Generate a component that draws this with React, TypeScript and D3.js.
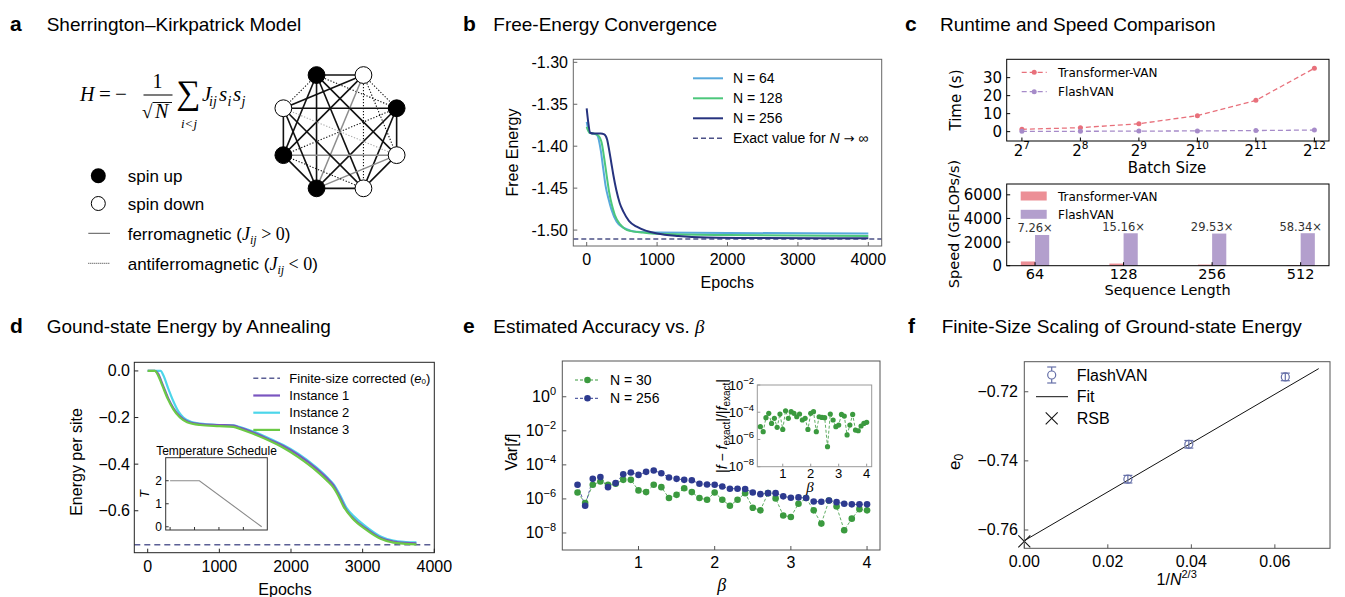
import React from "react";
import * as d3 from "d3";

const SANS = "'Liberation Sans', Arial, Helvetica, sans-serif";
const MPL = "'DejaVu Sans', sans-serif";
const SERIF = "'Liberation Serif', 'DejaVu Serif', serif";

// ---------- Panel a data ----------
const spinUp = [1, 0, 1, 0, 0, 1, 1, 0];
const couplings: [number, number, string][] = [
  [0, 1, "k"], [0, 2, "d"], [0, 3, "k"], [0, 4, "k"], [0, 5, "k"], [0, 6, "k"], [0, 7, "d"],
  [1, 2, "d"], [1, 3, "d"], [1, 4, "d"], [1, 5, "g"], [1, 6, "k"], [1, 7, "k"],
  [2, 3, "k"], [2, 4, "k"], [2, 5, "k"], [2, 6, "d"], [2, 7, "k"],
  [3, 4, "k"], [3, 5, "g"], [3, 6, "g"], [3, 7, "dg"],
  [4, 5, "k"], [4, 6, "d"], [4, 7, "k"],
  [5, 6, "k"], [5, 7, "k"],
  [6, 7, "k"],
];

// ---------- Panel b data ----------
const feN64: [number, number][] = [
  [0, -1.371], [40, -1.384], [100, -1.385], [150, -1.387], [200, -1.405], [237, -1.428], [270, -1.448],
  [308, -1.462], [350, -1.475], [426, -1.49], [500, -1.496], [568, -1.499], [700, -1.502], [1000, -1.503],
  [2000, -1.5035], [4000, -1.504],
];
const feN128: [number, number][] = [
  [0, -1.377], [40, -1.384], [100, -1.385], [160, -1.387], [213, -1.396], [250, -1.415], [284, -1.435],
  [320, -1.455], [355, -1.469], [400, -1.482], [473, -1.493], [550, -1.499], [615, -1.501], [800, -1.503],
  [1000, -1.5045], [2000, -1.506], [4000, -1.507],
];
const feN256: [number, number][] = [
  [0, -1.355], [20, -1.37], [50, -1.384], [100, -1.385], [200, -1.385], [250, -1.386], [290, -1.392],
  [320, -1.405], [350, -1.42], [380, -1.435], [420, -1.452], [470, -1.468], [521, -1.478], [600, -1.489],
  [710, -1.496], [850, -1.501], [1000, -1.504], [1300, -1.507], [1700, -1.5088], [2500, -1.5095], [4000, -1.5098],
];
const feExact = -1.5107;

// ---------- Panel c data ----------
const batchExp = [7, 8, 9, 10, 11, 12];
const timeTransformer = [1.3, 2.2, 4.4, 8.9, 17.4, 35.2];
const timeFlash = [0.15, 0.2, 0.3, 0.4, 0.6, 0.9];
const seqLengths = ["64", "128", "256", "512"];
const speedTransformer = [358, 181, 92, 47];
const speedFlash = [2600, 2745, 2720, 2750];
const speedups = ["7.26×", "15.16×", "29.53×", "58.34×"];

// ---------- Panel d data ----------
const inst1: [number, number][] = [
  [0, 0], [100, 0], [140, -0.01], [210, -0.06], [290, -0.12], [360, -0.16], [450, -0.195], [550, -0.216],
  [730, -0.228], [1000, -0.232], [1200, -0.235], [1300, -0.245], [1474, -0.264], [1700, -0.295], [1893, -0.322],
  [2100, -0.36], [2358, -0.42], [2500, -0.46], [2590, -0.49], [2680, -0.54], [2780, -0.6], [2893, -0.64],
  [3056, -0.678], [3250, -0.716], [3428, -0.732], [3600, -0.738], [3750, -0.74],
];
const inst2: [number, number][] = [
  [0, 0], [180, 0], [220, -0.02], [280, -0.07], [358, -0.13], [430, -0.175], [498, -0.2], [600, -0.218],
  [730, -0.226], [1000, -0.232], [1200, -0.234], [1300, -0.242], [1474, -0.26], [1700, -0.29], [1893, -0.318],
  [2100, -0.355], [2358, -0.415], [2500, -0.455], [2590, -0.485], [2680, -0.53], [2780, -0.59], [2893, -0.628],
  [3056, -0.67], [3250, -0.71], [3428, -0.728], [3600, -0.734], [3750, -0.736],
];
const inst3: [number, number][] = [
  [0, 0], [100, 0], [130, -0.01], [200, -0.06], [280, -0.12], [358, -0.165], [450, -0.2], [550, -0.22],
  [730, -0.232], [1000, -0.237], [1195, -0.24], [1300, -0.25], [1474, -0.27], [1700, -0.3], [1893, -0.33],
  [2100, -0.37], [2358, -0.43], [2500, -0.47], [2590, -0.5], [2650, -0.53], [2730, -0.58], [2850, -0.63],
  [3056, -0.683], [3250, -0.72], [3428, -0.737], [3600, -0.742], [3750, -0.744],
];
const e0Corrected = -0.7455;
const tempSchedule: [number, number][] = [[0, 2], [1200, 2], [3750, 0]];

// ---------- Panel e data ----------
const betas = [
  0.2, 0.3, 0.4, 0.5, 0.6, 0.7, 0.8, 0.9, 1.0, 1.1, 1.2, 1.3, 1.4, 1.5, 1.6, 1.7, 1.8, 1.9, 2.0, 2.1,
  2.2, 2.3, 2.4, 2.5, 2.6, 2.7, 2.8, 2.9, 3.0, 3.1, 3.2, 3.3, 3.4, 3.5, 3.6, 3.7, 3.8, 3.9, 4.0,
];
const log10VarN30 = [
  -5.62, -6.24, -5.17, -4.98, -5.17, -5.11, -4.88, -4.88, -5.5, -5.6, -5.17, -5.31, -5.95, -5.76, -5.37,
  -5.6, -5.95, -6.05, -5.62, -6.05, -6.4, -6.05, -5.66, -6.52, -6.67, -5.66, -5.97, -6.97, -7.06, -6.28,
  -5.95, -6.67, -7.45, -6.09, -6.44, -7.84, -7.16, -6.6, -6.67,
];
const log10VarN256 = [
  -5.17, -6.4, -4.82, -4.72, -5.31, -5.07, -4.55, -4.45, -4.59, -4.41, -4.33, -4.49, -4.74, -4.82, -4.88,
  -4.9, -5.11, -5.15, -5.17, -5.27, -5.4, -5.4, -5.42, -5.62, -5.72, -5.66, -5.66, -5.85, -5.93, -5.91,
  -5.95, -6.15, -6.17, -6.09, -6.19, -6.28, -6.32, -6.32, -6.32,
];
const log10RelErrN30 = [
  -5.06, -5.43, -4.4, -4.08, -4.82, -4.45, -5.11, -4.13, -5.26, -3.89, -4.45, -3.96, -4.08, -4.33, -4.13,
  -4.57, -4.45, -5.26, -4.08, -3.96, -5.43, -4.33, -4.38, -4.4, -6.53, -4.13, -4.57, -5.06, -4.94, -4.16,
  -4.28, -5.67, -4.94, -4.16, -5.31, -5.36, -5.01, -4.82, -4.74,
];

// ---------- Panel f data ----------
const invN23 = [0.0248, 0.0394, 0.0625];
const e0Values = [-0.7453, -0.7352, -0.7157];
const e0Errors = [0.0011, 0.0011, 0.0011];
const fitLine: [number, number][] = [[0, -0.7631], [0.0705, -0.7133]];
const rsbValue: [number, number] = [0, -0.7633];

// ---------- helpers ----------
const Title = ({ letter, lx, x, y, text }: any) => (
  <g>
    <text x={lx} y={y} fontFamily={SANS} fontWeight="bold" fontSize={21}>{letter}</text>
    {text ? <text x={x} y={y} fontFamily={SANS} fontSize={19}>{text}</text> : null}
  </g>
);

function PanelA() {
  const cx = 340, cy = 131.7, R = 61.3;
  const pos = spinUp.map((_, i) => {
    const a = ((-112.5 + 45 * i) * Math.PI) / 180;
    return [cx + R * Math.cos(a), cy + R * Math.sin(a)];
  });
  const styleOf = (t: string) => {
    if (t === "k") return { stroke: "#111", strokeWidth: 1.6 };
    if (t === "g") return { stroke: "#8c8c8c", strokeWidth: 1.5 };
    if (t === "d") return { stroke: "#111", strokeWidth: 1.1, strokeDasharray: "1.3,1.7" };
    return { stroke: "#aaa", strokeWidth: 1.1, strokeDasharray: "1.3,1.7" };
  };
  const mathFont = { fontFamily: SERIF, fontStyle: "italic" as const };
  return (
    <g>
      <Title letter="a" lx={10} x={46.7} y={31} text="Sherrington–Kirkpatrick Model" />
      {/* equation */}
      <text x={80} y={101} fontSize={20} {...mathFont}>H</text>
      <text x={105} y={101} fontSize={21} fontFamily={SERIF} textAnchor="middle">=</text>
      <text x={121} y={101} fontSize={21} fontFamily={SERIF} textAnchor="middle">−</text>
      <text x={157.5} y={88} fontSize={20} fontFamily={SERIF} textAnchor="middle">1</text>
      <line x1={143.5} x2={172.5} y1={95} y2={95} stroke="#111" strokeWidth={1.1} />
      <text x={142} y={118} fontSize={19} fontFamily={SERIF}>√</text>
      <line x1={152.5} x2={172} y1={102.5} y2={102.5} stroke="#111" strokeWidth={1} />
      <text x={155} y={118} fontSize={20} {...mathFont}>N</text>
      <text x={176} y={104} fontSize={34} fontFamily={SERIF}>∑</text>
      <text x={189} y={128} fontSize={13} textAnchor="middle" {...mathFont}>i&lt;j</text>
      <text x={202} y={101} fontSize={21} {...mathFont}>J</text>
      <text x={209} y={106} fontSize={14} {...mathFont}>ij</text>
      <text x={219} y={101} fontSize={21} {...mathFont}>s</text>
      <text x={227.5} y={106} fontSize={14} {...mathFont}>i</text>
      <text x={233} y={101} fontSize={21} {...mathFont}>s</text>
      <text x={241.5} y={106} fontSize={14} {...mathFont}>j</text>
      {/* graph */}
      {couplings.map(([i, j, t], k) => (
        <line key={k} x1={pos[i][0]} y1={pos[i][1]} x2={pos[j][0]} y2={pos[j][1]} {...styleOf(t)} />
      ))}
      {pos.map((p, i) => (
        <circle key={i} cx={p[0]} cy={p[1]} r={8.4} fill={spinUp[i] ? "#000" : "#fff"} stroke="#000" strokeWidth={1} />
      ))}
      {/* legend */}
      <circle cx={98.3} cy={175.7} r={7.5} fill="#000" />
      <text x={127.7} y={181.7} fontFamily={SANS} fontSize={17}>spin up</text>
      <circle cx={98.3} cy={203.5} r={7} fill="#fff" stroke="#000" strokeWidth={1} />
      <text x={127.7} y={210} fontFamily={SANS} fontSize={17}>spin down</text>
      <line x1={88.3} x2={110} y1={233.3} y2={233.3} stroke="#555" strokeWidth={1} />
      <text x={127.7} y={239.5} fontFamily={SANS} fontSize={17}>
        ferromagnetic (<tspan {...mathFont} fontSize={18}>J</tspan><tspan dy={4} fontSize={12} {...mathFont}>ij</tspan>
        <tspan dy={-4} fontFamily={SERIF} fontSize={18}> &gt; 0</tspan>)
      </text>
      <line x1={88.3} x2={110} y1={263.3} y2={263.3} stroke="#333" strokeWidth={1} strokeDasharray="1,1" />
      <text x={127.7} y={269.5} fontFamily={SANS} fontSize={17}>
        antiferromagnetic (<tspan {...mathFont} fontSize={18}>J</tspan><tspan dy={4} fontSize={12} {...mathFont}>ij</tspan>
        <tspan dy={-4} fontFamily={SERIF} fontSize={18}> &lt; 0</tspan>)
      </text>
    </g>
  );
}

function PanelB() {
  const x = d3.scaleLinear().domain([-190, 4190]).range([573.3, 881.7]);
  const y = d3.scaleLinear().domain([-1.519, -1.2964]).range([246, 59.3]);
  const line = d3.line<[number, number]>().x((d) => x(d[0])).y((d) => y(d[1])).curve(d3.curveMonotoneX);
  const series = [
    { name: "N = 64", data: feN64, color: "#58a9dc" },
    { name: "N = 128", data: feN128, color: "#4cc77b" },
    { name: "N = 256", data: feN256, color: "#26337f" },
  ];
  const yt = [-1.3, -1.35, -1.4, -1.45, -1.5];
  const xt = [0, 1000, 2000, 3000, 4000];
  return (
    <g fontFamily={SANS}>
      <Title letter="b" lx={463} x={493.3} y={31} text="Free-Energy Convergence" />
      <line x1={573.3} x2={881.7} y1={y(feExact)} y2={y(feExact)} stroke="#4c5187" strokeWidth={1.5} strokeDasharray="5,3" />
      {series.map((s) => (
        <path key={s.name} d={line(s.data) || ""} fill="none" stroke={s.color} strokeWidth={2} />
      ))}
      <rect x={573.3} y={59.3} width={308.4} height={186.7} fill="none" stroke="#666" strokeWidth={1} />
      {yt.map((v) => (
        <g key={v}>
          <line x1={573.3} x2={577.3} y1={y(v)} y2={y(v)} stroke="#666" />
          <text x={568} y={y(v) + 5.5} textAnchor="end" fontSize={16}>{v.toFixed(2)}</text>
        </g>
      ))}
      {xt.map((v) => (
        <g key={v}>
          <line x1={x(v)} x2={x(v)} y1={246} y2={242} stroke="#666" />
          <text x={x(v)} y={265} textAnchor="middle" fontSize={16}>{v}</text>
        </g>
      ))}
      <text transform={`translate(518,152.6) rotate(-90)`} textAnchor="middle" fontSize={16}>Free Energy</text>
      <text x={727.3} y={288.3} textAnchor="middle" fontSize={16}>Epochs</text>
      {series.map((s, i) => (
        <g key={s.name}>
          <line x1={693} x2={723} y1={78.3 + 20 * i} y2={78.3 + 20 * i} stroke={s.color} strokeWidth={2} />
          <text x={733} y={78.3 + 20 * i + 5} fontSize={14}>{s.name}</text>
        </g>
      ))}
      <line x1={693} x2={723} y1={138.3} y2={138.3} stroke="#4c5187" strokeWidth={1.5} strokeDasharray="5,3" />
      <text x={733} y={143.3} fontSize={14}>
        Exact value for <tspan fontStyle="italic">N</tspan> <tspan fontFamily={MPL} fontSize={13}>→</tspan> ∞
      </text>
    </g>
  );
}

function PanelC() {
  const x = d3.scaleLog().base(2).domain([2 ** 6.74, 2 ** 12.25]).range([1006.7, 1329]);
  const y = d3.scaleLinear().domain([-5.2, 40.2]).range([141, 59.3]);
  const lineT = d3.line<number>().x((_, i) => x(2 ** batchExp[i])).y((d) => y(d));
  const redL = "#e8707b", purL = "#a68bc9";
  const redB = "#ec8f96", purB = "#b39fcd";
  const xb = d3.scaleLinear().domain([-0.32, 3.32]).range([1006.7, 1329]);
  const yb = d3.scaleLinear().domain([0, 7000]).range([265.7, 183]);
  const bw = 0.16;
  return (
    <g fontFamily={MPL}>
      <Title letter="c" lx={905} x={940} y={31} text="Runtime and Speed Comparison" />
      {/* top */}
      <path d={lineT(timeTransformer) || ""} fill="none" stroke={redL} strokeWidth={1.3} strokeDasharray="5,3" />
      <path d={lineT(timeFlash) || ""} fill="none" stroke={purL} strokeWidth={1.3} strokeDasharray="5,3" />
      {timeTransformer.map((v, i) => <circle key={"t" + i} cx={x(2 ** batchExp[i])} cy={y(v)} r={2.5} fill={redL} />)}
      {timeFlash.map((v, i) => <circle key={"f" + i} cx={x(2 ** batchExp[i])} cy={y(v)} r={2.5} fill={purL} />)}
      <rect x={1006.7} y={59.3} width={322.3} height={81.7} fill="none" stroke="#000" strokeWidth={1} />
      {[0, 10, 20, 30].map((v) => (
        <g key={v}>
          <line x1={1006.7} x2={1010.2} y1={y(v)} y2={y(v)} stroke="#000" />
          <text x={1002} y={y(v) + 5.5} textAnchor="end" fontSize={15}>{v}</text>
        </g>
      ))}
      {batchExp.map((e) => (
        <g key={e}>
          <line x1={x(2 ** e)} x2={x(2 ** e)} y1={141} y2={137.5} stroke="#000" />
          <text x={x(2 ** e)} y={156} textAnchor="middle" fontSize={15}>
            2<tspan dy={-7} fontSize={10.5}>{e}</tspan>
          </text>
        </g>
      ))}
      <text transform="translate(961,100) rotate(-90)" textAnchor="middle" fontSize={15}>Time (s)</text>
      <text x={1167} y={172.7} textAnchor="middle" fontSize={15}>Batch Size</text>
      <line x1={1021.7} x2={1046.7} y1={72.3} y2={72.3} stroke={redL} strokeWidth={1.3} strokeDasharray="5,3" />
      <circle cx={1034.2} cy={72.3} r={2.5} fill={redL} />
      <text x={1058} y={76.8} fontSize={12}>Transformer-VAN</text>
      <line x1={1021.7} x2={1046.7} y1={91.7} y2={91.7} stroke={purL} strokeWidth={1.3} strokeDasharray="5,3" />
      <circle cx={1034.2} cy={91.7} r={2.5} fill={purL} />
      <text x={1058} y={96.2} fontSize={12}>FlashVAN</text>
      {/* bottom */}
      {speedTransformer.map((v, i) => (
        <rect key={"rt" + i} x={xb(i - bw)} y={yb(v)} width={xb(i) - xb(i - bw)} height={yb(0) - yb(v)} fill={redB} />
      ))}
      {speedFlash.map((v, i) => (
        <rect key={"rf" + i} x={xb(i)} y={yb(v)} width={xb(i + bw) - xb(i)} height={yb(0) - yb(v)} fill={purB} />
      ))}
      {speedups.map((s, i) => (
        <text key={s} x={xb(i)} y={yb(speedFlash[i]) - 2.5} textAnchor="middle" fontSize={11.5} fill="#333">{s}</text>
      ))}
      <rect x={1006.7} y={184} width={322.3} height={81.7} fill="none" stroke="#000" strokeWidth={1} />
      {[0, 2000, 4000, 6000].map((v) => (
        <g key={v}>
          <line x1={1006.7} x2={1010.2} y1={yb(v)} y2={yb(v)} stroke="#000" />
          <text x={1002} y={yb(v) + 5.5} textAnchor="end" fontSize={15}>{v}</text>
        </g>
      ))}
      {seqLengths.map((s, i) => (
        <g key={s}>
          <line x1={xb(i)} x2={xb(i)} y1={265.7} y2={262.2} stroke="#000" />
          <text x={xb(i)} y={278.5} textAnchor="middle" fontSize={14.5}>{s}</text>
        </g>
      ))}
      <text transform="translate(959,224) rotate(-90)" textAnchor="middle" fontSize={14.5}>Speed (GFLOPs/s)</text>
      <text x={1167.5} y={295} textAnchor="middle" fontSize={14.5}>Sequence Length</text>
      <rect x={1020.7} y={191.5} width={26} height={9} fill={redB} />
      <text x={1058} y={200.5} fontSize={12}>Transformer-VAN</text>
      <rect x={1020.7} y={209.8} width={26} height={9} fill={purB} />
      <text x={1058} y={218.8} fontSize={12}>FlashVAN</text>
    </g>
  );
}

function PanelD() {
  const x = d3.scaleLinear().domain([-187, 4000]).range([134.3, 434.3]);
  const y = d3.scaleLinear().domain([-0.78, 0.037]).range([552.7, 362.3]);
  const line = d3.line<[number, number]>().x((d) => x(d[0])).y((d) => y(d[1])).curve(d3.curveMonotoneX);
  const series = [
    { name: "Instance 2", data: inst2, color: "#4cd6ea" },
    { name: "Instance 1", data: inst1, color: "#7a55c0" },
    { name: "Instance 3", data: inst3, color: "#6cc946" },
  ];
  const legend = [series[1], series[0], series[2]];
  const xi = d3.scaleLinear().domain([-180, 3980]).range([165.7, 267.3]);
  const yi = d3.scaleLinear().domain([-0.14, 3.0]).range([530, 457.7]);
  const lineI = d3.line<[number, number]>().x((d) => xi(d[0])).y((d) => yi(d[1]));
  return (
    <g fontFamily={SANS}>
      <Title letter="d" lx={10} x={46.7} y={333} text="Gound-state Energy by Annealing" />
      <line x1={134.3} x2={434.3} y1={y(e0Corrected)} y2={y(e0Corrected)} stroke="#5b5f95" strokeWidth={1.5} strokeDasharray="6,4" />
      {series.map((s) => (
        <path key={s.name} d={line(s.data) || ""} fill="none" stroke={s.color} strokeWidth={2.2} />
      ))}
      <rect x={134.3} y={362.3} width={300} height={190.4} fill="none" stroke="#222" strokeWidth={1} />
      {[0, -0.2, -0.4, -0.6].map((v) => (
        <g key={v}>
          <line x1={134.3} x2={138.3} y1={y(v)} y2={y(v)} stroke="#222" />
          <text x={130} y={y(v) + 5.5} textAnchor="end" fontSize={16}>{v === 0 ? "0.0" : "−" + Math.abs(v).toFixed(1)}</text>
        </g>
      ))}
      {[0, 1000, 2000, 3000, 4000].map((v) => (
        <g key={v}>
          <line x1={x(v)} x2={x(v)} y1={552.7} y2={548.7} stroke="#222" />
          <text x={x(v)} y={571.7} textAnchor="middle" fontSize={16}>{v}</text>
        </g>
      ))}
      <text transform="translate(82,462) rotate(-90)" textAnchor="middle" fontSize={16}>Energy per site</text>
      <text x={285} y={595} textAnchor="middle" fontSize={16}>Epochs</text>
      {/* legend */}
      <line x1={253.3} x2={280} y1={378.3} y2={378.3} stroke="#5b5f95" strokeWidth={1.5} strokeDasharray="5,3" />
      <text x={289.3} y={382.8} fontSize={13}>
        Finite-size corrected (<tspan fontStyle="italic">e</tspan><tspan fontSize={8} dy={1}>0</tspan><tspan dy={-1}>)</tspan>
      </text>
      {legend.map((s, i) => (
        <g key={s.name}>
          <line x1={253.3} x2={280} y1={395.5 + 17.2 * i} y2={395.5 + 17.2 * i} stroke={s.color} strokeWidth={2.2} />
          <text x={289.3} y={400 + 17.2 * i} fontSize={13}>{s.name}</text>
        </g>
      ))}
      {/* inset */}
      <rect x={165.7} y={457.7} width={101.6} height={72.3} fill="#fff" stroke="#333" strokeWidth={1} />
      <path d={lineI(tempSchedule) || ""} fill="none" stroke="#8a8a8a" strokeWidth={1.1} />
      {[0, 1, 2].map((v) => (
        <g key={v}>
          <line x1={165.7} x2={168.7} y1={yi(v)} y2={yi(v)} stroke="#333" />
          <text x={162} y={yi(v) + 4.3} textAnchor="end" fontSize={12}>{v}</text>
        </g>
      ))}
      {[0, 1000, 2000, 3000].map((v) => (
        <line key={v} x1={xi(v)} x2={xi(v)} y1={530} y2={527} stroke="#333" />
      ))}
      <text x={216.5} y={455} textAnchor="middle" fontSize={12}>Temperature Schedule</text>
      <text transform="translate(149,494) rotate(-90)" textAnchor="middle" fontSize={13} fontStyle="italic">T</text>
    </g>
  );
}

function PanelE() {
  const x = d3.scaleLinear().domain([0, 4.17]).range([562.3, 880]);
  const y = d3.scaleLog().domain([1e-9, 10 ** 2.1]).range([550, 361]);
  const green = "#3b9a3f", blue = "#2d3a8f";
  const line = d3.line<number>().x((_, i) => x(betas[i])).y((d) => y(10 ** d));
  const xi = d3.scaleLinear().domain([0.09, 4.18]).range([757.3, 871.7]);
  const yi = d3.scaleLog().domain([1e-8, 1e-2]).range([466.7, 385]);
  const lineI = d3.line<number>().x((_, i) => xi(betas[i])).y((d) => yi(10 ** d));
  return (
    <g fontFamily={SANS}>
      <Title letter="e" lx={463} x={493.3} y={333} text="" />
      <text x={493.3} y={333} fontSize={19}>Estimated Accuracy vs. <tspan fontStyle="italic" fontFamily={SERIF}>β</tspan></text>
      <path d={line(log10VarN30) || ""} fill="none" stroke={green} strokeWidth={1} strokeDasharray="3,2" opacity={0.8} />
      <path d={line(log10VarN256) || ""} fill="none" stroke={blue} strokeWidth={1} strokeDasharray="3,2" opacity={0.8} />
      {log10VarN30.map((v, i) => <circle key={"g" + i} cx={x(betas[i])} cy={y(10 ** v)} r={3.3} fill={green} />)}
      {log10VarN256.map((v, i) => <circle key={"b" + i} cx={x(betas[i])} cy={y(10 ** v)} r={3.3} fill={blue} />)}
      <rect x={562.3} y={361} width={317.7} height={189} fill="none" stroke="#555" strokeWidth={1} />
      {[0, -2, -4, -6, -8].map((e) => (
        <g key={e}>
          <line x1={562.3} x2={566.3} y1={y(10 ** e)} y2={y(10 ** e)} stroke="#555" />
          <text x={556} y={y(10 ** e) + 5.5} textAnchor="end" fontSize={16}>
            10<tspan dy={-7} fontSize={11}>{e === 0 ? "0" : "−" + Math.abs(e)}</tspan>
          </text>
        </g>
      ))}
      {[1, 2, 3, 4].map((v) => (
        <g key={v}>
          <line x1={x(v)} x2={x(v)} y1={550} y2={546} stroke="#555" />
          <text x={x(v)} y={568.3} textAnchor="middle" fontSize={16}>{v}</text>
        </g>
      ))}
      <text transform="translate(517,452) rotate(-90)" textAnchor="middle" fontSize={16}>
        Var[<tspan fontStyle="italic">f</tspan>]
      </text>
      <text x={721.7} y={591} textAnchor="middle" fontSize={18} fontStyle="italic" fontFamily={SERIF}>β</text>
      {/* legend */}
      <line x1={575} x2={600} y1={380} y2={380} stroke={green} strokeWidth={1} strokeDasharray="3,2" />
      <circle cx={587.5} cy={380} r={3.3} fill={green} />
      <text x={610} y={385} fontSize={14}>N = 30</text>
      <line x1={575} x2={600} y1={398.3} y2={398.3} stroke={blue} strokeWidth={1} strokeDasharray="3,2" />
      <circle cx={587.5} cy={398.3} r={3.3} fill={blue} />
      <text x={610} y={403.3} fontSize={14}>N = 256</text>
      {/* inset */}
      <rect x={757.3} y={385} width={114.4} height={81.7} fill="#fff" stroke="#999" strokeWidth={1} />
      <path d={lineI(log10RelErrN30) || ""} fill="none" stroke={green} strokeWidth={1} strokeDasharray="3,2" opacity={0.8} />
      {log10RelErrN30.map((v, i) => <circle key={"i" + i} cx={xi(betas[i])} cy={yi(10 ** v)} r={2.6} fill={green} />)}
      {[-2, -4, -6, -8].map((e) => (
        <g key={e}>
          <line x1={757.3} x2={760.3} y1={yi(10 ** e)} y2={yi(10 ** e)} stroke="#999" />
          <text x={754} y={yi(10 ** e) + 4.5} textAnchor="end" fontSize={13}>
            10<tspan dy={-6} fontSize={9.5}>{"−" + Math.abs(e)}</tspan>
          </text>
        </g>
      ))}
      {[1, 2, 3, 4].map((v) => (
        <g key={v}>
          <line x1={xi(v)} x2={xi(v)} y1={466.7} y2={463.7} stroke="#999" />
          <text x={xi(v)} y={478} textAnchor="middle" fontSize={13}>{v}</text>
        </g>
      ))}
      <text x={810} y={492} textAnchor="middle" fontSize={15} fontStyle="italic" fontFamily={SERIF}>β</text>
      <text transform="translate(727,426) rotate(-90)" textAnchor="middle" fontSize={14}>
        |<tspan fontStyle="italic">f</tspan> − <tspan fontStyle="italic">f</tspan>
        <tspan fontSize={10} dy={3}>exact</tspan><tspan dy={-3}>|/|</tspan>
        <tspan fontStyle="italic">f</tspan><tspan fontSize={10} dy={3}>exact</tspan><tspan dy={-3}>|</tspan>
      </text>
    </g>
  );
}

function PanelF() {
  const x = d3.scaleLinear().domain([0, 0.0732]).range([1024.3, 1330]);
  const y = d3.scaleLinear().domain([-0.7653, -0.7113]).range([548.3, 361.7]);
  const col = "#6670a8";
  const fit = d3.line<[number, number]>().x((d) => x(d[0])).y((d) => y(d[1]));
  return (
    <g fontFamily={SANS}>
      <Title letter="f" lx={908} x={941.7} y={333} text="Finite-Size Scaling of Ground-state Energy" />
      <path d={fit(fitLine) || ""} fill="none" stroke="#111" strokeWidth={1} />
      {invN23.map((v, i) => {
        const cx = x(v), yt = y(e0Values[i] + e0Errors[i]), yb = y(e0Values[i] - e0Errors[i]);
        return (
          <g key={i} stroke={col} strokeWidth={1.2} fill="none">
            <line x1={cx} x2={cx} y1={yt} y2={yb} />
            <line x1={cx - 4.5} x2={cx + 4.5} y1={yt} y2={yt} />
            <line x1={cx - 4.5} x2={cx + 4.5} y1={yb} y2={yb} />
            <circle cx={cx} cy={y(e0Values[i])} r={4} />
          </g>
        );
      })}
      <g stroke="#111" strokeWidth={1.1}>
        <line x1={x(rsbValue[0]) - 6} x2={x(rsbValue[0]) + 6} y1={y(rsbValue[1]) - 6} y2={y(rsbValue[1]) + 6} />
        <line x1={x(rsbValue[0]) - 6} x2={x(rsbValue[0]) + 6} y1={y(rsbValue[1]) + 6} y2={y(rsbValue[1]) - 6} />
      </g>
      <rect x={1024.3} y={361.7} width={305.7} height={186.6} fill="none" stroke="#555" strokeWidth={1} />
      {[-0.72, -0.74, -0.76].map((v) => (
        <g key={v}>
          <line x1={1024.3} x2={1028.3} y1={y(v)} y2={y(v)} stroke="#555" />
          <text x={1018} y={y(v) + 5.5} textAnchor="end" fontSize={16}>{"−" + Math.abs(v).toFixed(2)}</text>
        </g>
      ))}
      {[0, 0.02, 0.04, 0.06].map((v) => (
        <g key={v}>
          <line x1={x(v)} x2={x(v)} y1={548.3} y2={544.3} stroke="#555" />
          <text x={x(v)} y={566.7} textAnchor="middle" fontSize={16}>{v.toFixed(2)}</text>
        </g>
      ))}
      <text transform="translate(960,462) rotate(-90)" textAnchor="middle" fontSize={17}>
        e<tspan fontSize={12} dy={3}>0</tspan>
      </text>
      <text x={1176.7} y={585} textAnchor="middle" fontSize={16}>
        1/<tspan fontStyle="italic">N</tspan><tspan fontSize={11} dy={-7}>2/3</tspan>
      </text>
      {/* legend */}
      <g stroke={col} strokeWidth={1.2} fill="none">
        <line x1={1051.7} x2={1051.7} y1={367} y2={383} />
        <line x1={1047.2} x2={1056.2} y1={367} y2={367} />
        <line x1={1047.2} x2={1056.2} y1={383} y2={383} />
        <circle cx={1051.7} cy={375} r={4} fill="#fff" />
      </g>
      <text x={1076.7} y={380.5} fontSize={16}>FlashVAN</text>
      <line x1={1036} x2={1068} y1={396.7} y2={396.7} stroke="#111" strokeWidth={1} />
      <text x={1076.7} y={402.2} fontSize={16}>Fit</text>
      <g stroke="#111" strokeWidth={1.1}>
        <line x1={1045.7} x2={1057.7} y1={412.3} y2={424.3} />
        <line x1={1045.7} x2={1057.7} y1={424.3} y2={412.3} />
      </g>
      <text x={1076.7} y={423.8} fontSize={16}>RSB</text>
    </g>
  );
}

export default function App() {
  return (
    <svg width={1345} height={597} style={{ position: "absolute", left: 0, top: 0, background: "#fff" }}>
      <rect width={1345} height={597} fill="#fff" />
      <PanelA />
      <PanelB />
      <PanelC />
      <PanelD />
      <PanelE />
      <PanelF />
    </svg>
  );
}
